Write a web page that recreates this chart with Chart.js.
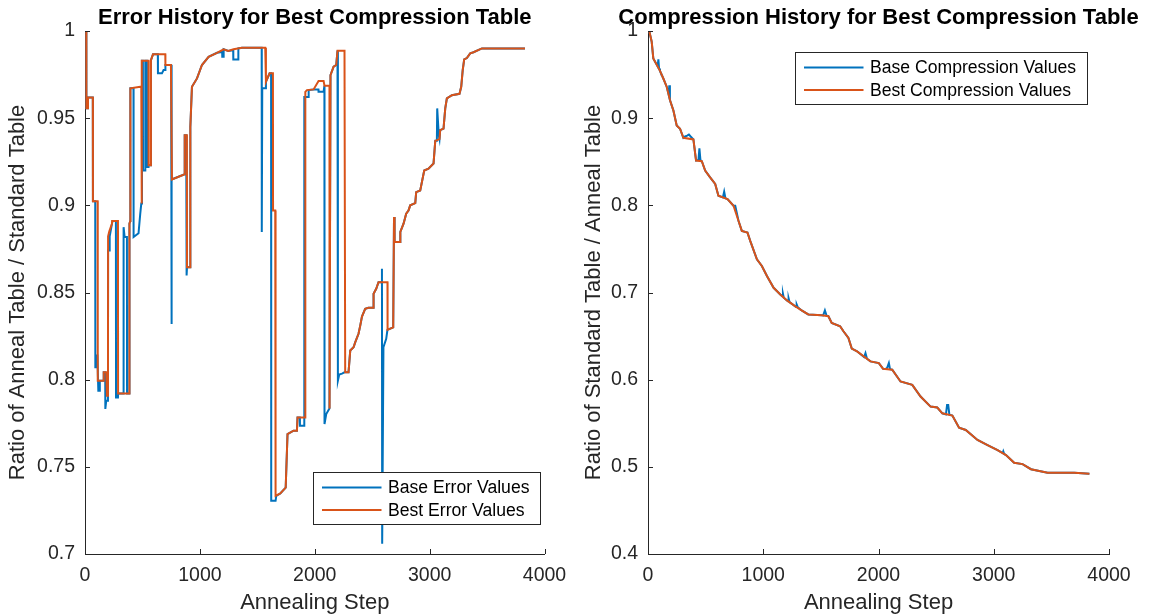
<!DOCTYPE html>
<html>
<head>
<meta charset="utf-8">
<title>Annealing history</title>
<script src="https://cdn.jsdelivr.net/npm/chart.js@4.4.1/dist/chart.umd.min.js"></script>
<style>
    body { margin: 0; background: #fff; }
    #wrap { position: relative; width: 1152px; height: 616px; overflow: hidden; }
    canvas { position: absolute; top: 0; }
</style>
</head>
<body>
<div id="wrap">
    <canvas id="errorChart" width="576" height="616" style="left:0"></canvas>
    <canvas id="compChart" width="576" height="616" style="left:576px"></canvas>
</div>
<script>
// ticks
const stepTicks = [0, 1000, 2000, 3000, 4000]
const stepTickLabels = ["0", "1000", "2000", "3000", "4000"]
const errorTicks = [0.7, 0.75, 0.8, 0.85, 0.9, 0.95, 1]
const errorTickLabels = ["0.7", "0.75", "0.8", "0.85", "0.9", "0.95", "1"]
const compTicks = [0.4, 0.5, 0.6, 0.7, 0.8, 0.9, 1]
const compTickLabels = ["0.4", "0.5", "0.6", "0.7", "0.8", "0.9", "1"]

// [annealing step, ratio]
const baseErrorValues = [
    [0, 1], [11, 1], [12, 0.9557], [24, 0.9557], [26, 0.9618], [68, 0.9618], [69, 0.9023], [89, 0.9023],
    [90, 0.8071], [100, 0.8071], [104, 0.8138], [108, 0.8138], [116, 0.7937], [124, 0.7937], [129, 0.7994],
    [162, 0.7994], [163, 0.8042], [176, 0.8042], [177, 0.7832], [185, 0.7879], [200, 0.7879], [201, 0.8741],
    [211, 0.8741], [215, 0.8822], [235, 0.8895], [240, 0.891], [269, 0.891], [270, 0.7898], [287, 0.7898],
    [288, 0.7921], [335, 0.7921], [336, 0.8875], [345, 0.8818], [365, 0.8818], [366, 0.7921], [386, 0.7921],
    [387, 0.8895], [394, 0.891], [395, 0.9671], [422, 0.9671], [423, 0.8818], [466, 0.884], [481, 0.8952],
    [490, 0.901], [496, 0.9829], [504, 0.9829], [505, 0.92], [524, 0.92], [525, 0.9829], [539, 0.9829],
    [540, 0.922], [552, 0.922], [553, 0.923], [573, 0.923], [574, 0.9833], [592, 0.9866], [634, 0.9866],
    [635, 0.9757], [670, 0.9757], [684, 0.9776], [699, 0.9776], [700, 0.9805], [750, 0.9805], [751, 0.832],
    [757, 0.9148], [867, 0.9178], [868, 0.9402], [881, 0.9402], [882, 0.8598], [887, 0.8598], [888, 0.8645],
    [916, 0.8645], [917, 0.945], [931, 0.968], [975, 0.9728], [1018, 0.9805], [1076, 0.9852], [1149, 0.9875],
    [1194, 0.988], [1195, 0.9852], [1206, 0.9852], [1207, 0.9895], [1247, 0.9885], [1290, 0.989], [1291, 0.9837],
    [1334, 0.9837], [1335, 0.99], [1366, 0.9904], [1538, 0.9904], [1539, 0.8847], [1543, 0.9671], [1568, 0.9671],
    [1575, 0.9709], [1607, 0.9757], [1620, 0.9757], [1621, 0.7305], [1659, 0.7305], [1665, 0.7333], [1700, 0.7347],
    [1747, 0.7381], [1763, 0.7688], [1815, 0.7707], [1845, 0.7707], [1850, 0.7783], [1870, 0.7783], [1871, 0.7736],
    [1908, 0.7736], [1909, 0.9622], [1946, 0.9622], [1947, 0.9661], [1990, 0.9665], [2032, 0.9665], [2033, 0.9651],
    [2077, 0.9651], [2084, 0.9686], [2085, 0.7745], [2100, 0.7803], [2128, 0.7835], [2137, 0.9747], [2164, 0.9795],
    [2187, 0.9805], [2198, 0.9887], [2201, 0.9887], [2202, 0.7994], [2213, 0.8029], [2237, 0.8035], [2259, 0.8042],
    [2294, 0.8042], [2309, 0.8167], [2338, 0.8186], [2352, 0.8214], [2381, 0.8263], [2396, 0.831], [2411, 0.8362],
    [2439, 0.8406], [2467, 0.8412], [2511, 0.8412], [2512, 0.8493], [2535, 0.8521], [2555, 0.8559], [2584, 0.8559],
    [2585, 0.8636], [2587, 0.7059], [2598, 0.8186], [2622, 0.8234], [2633, 0.8286], [2683, 0.83], [2690, 0.8933],
    [2695, 0.8789], [2744, 0.8789], [2745, 0.8847], [2773, 0.8895], [2796, 0.8952], [2816, 0.897], [2831, 0.9],
    [2875, 0.9013], [2883, 0.9076], [2918, 0.9085], [2953, 0.92], [2990, 0.921], [3034, 0.924], [3049, 0.937],
    [3063, 0.937], [3066, 0.9556], [3080, 0.94], [3086, 0.938], [3092, 0.9431], [3121, 0.944], [3136, 0.9556],
    [3150, 0.9613], [3194, 0.9632], [3260, 0.964], [3275, 0.968], [3288, 0.9776], [3301, 0.9837], [3324, 0.9845],
    [3353, 0.9872], [3382, 0.9878], [3455, 0.99], [3830, 0.99],
]

const bestErrorValues = [
    [0, 1], [11, 1], [12, 0.9557], [24, 0.9557], [26, 0.9618], [68, 0.9618], [69, 0.9023], [110, 0.9023],
    [111, 0.7994], [162, 0.7994], [163, 0.8042], [185, 0.8042], [191, 0.7908], [200, 0.7908], [201, 0.8822],
    [211, 0.885], [235, 0.8895], [236, 0.891], [287, 0.891], [288, 0.7921], [386, 0.7921], [387, 0.8895],
    [394, 0.891], [395, 0.9671], [481, 0.968], [490, 0.968], [491, 0.901], [495, 0.901], [496, 0.9829],
    [553, 0.9829], [554, 0.923], [573, 0.923], [574, 0.9833], [592, 0.9866], [699, 0.9866], [700, 0.9805],
    [748, 0.9805], [757, 0.9148], [867, 0.9178], [868, 0.9402], [887, 0.9402], [888, 0.8645], [916, 0.8645],
    [917, 0.945], [931, 0.968], [975, 0.9728], [1018, 0.9805], [1076, 0.9852], [1149, 0.9875], [1206, 0.9895],
    [1247, 0.9885], [1293, 0.9895], [1366, 0.9904], [1569, 0.9904], [1575, 0.9709], [1607, 0.9757], [1636, 0.9757],
    [1637, 0.8971], [1656, 0.8971], [1659, 0.7333], [1700, 0.7347], [1747, 0.7381], [1763, 0.7688], [1815, 0.7707],
    [1845, 0.7707], [1850, 0.7783], [1917, 0.7783], [1918, 0.9651], [1932, 0.9661], [1990, 0.9665], [2033, 0.9713],
    [2077, 0.9713], [2085, 0.9686], [2128, 0.9686], [2129, 0.7835], [2137, 0.9747], [2164, 0.9795], [2187, 0.9805],
    [2198, 0.9887], [2259, 0.9887], [2265, 0.8042], [2294, 0.8042], [2309, 0.8167], [2338, 0.8186], [2352, 0.8214],
    [2381, 0.8263], [2396, 0.831], [2411, 0.8362], [2439, 0.8406], [2467, 0.8412], [2511, 0.8412], [2512, 0.8493],
    [2535, 0.8521], [2555, 0.8559], [2633, 0.8559], [2634, 0.8286], [2683, 0.83], [2690, 0.8933], [2695, 0.8789],
    [2744, 0.8789], [2745, 0.8847], [2773, 0.8895], [2796, 0.8952], [2816, 0.897], [2831, 0.9], [2875, 0.9013],
    [2883, 0.9076], [2918, 0.9085], [2953, 0.92], [2990, 0.921], [3034, 0.924], [3049, 0.937], [3086, 0.938],
    [3092, 0.9431], [3121, 0.944], [3136, 0.9556], [3150, 0.9613], [3194, 0.9632], [3260, 0.964], [3275, 0.968],
    [3288, 0.9776], [3301, 0.9837], [3324, 0.9845], [3353, 0.9872], [3382, 0.9878], [3455, 0.99], [3830, 0.99],
]

const baseCompValues = [
    [0, 1], [11, 1], [32, 0.9877], [46, 0.9685], [70, 0.9628], [84, 0.9594], [90, 0.9674], [96, 0.957],
    [104, 0.9543], [133, 0.9455], [163, 0.9358], [179, 0.927], [185, 0.9378], [190, 0.9215], [191, 0.9205],
    [220, 0.909], [249, 0.8917], [278, 0.8879], [307, 0.8775], [322, 0.879], [340, 0.88], [355, 0.8813],
    [370, 0.879], [394, 0.8756], [417, 0.8514], [438, 0.852], [446, 0.8655], [455, 0.852], [467, 0.8506],
    [496, 0.8399], [539, 0.8321], [583, 0.8245], [611, 0.8111], [650, 0.8092], [661, 0.8157], [672, 0.808],
    [690, 0.8072], [742, 0.7995], [757, 0.7995], [785, 0.7823], [814, 0.7707], [863, 0.7688], [887, 0.7592],
    [945, 0.7381], [988, 0.7304], [1032, 0.7189], [1090, 0.7054], [1148, 0.6978], [1165, 0.6958], [1171, 0.6985],
    [1178, 0.694], [1206, 0.6909], [1215, 0.69], [1220, 0.6932], [1228, 0.689], [1276, 0.6843], [1285, 0.6835],
    [1290, 0.6863], [1300, 0.683], [1333, 0.6794], [1391, 0.6748], [1507, 0.674], [1520, 0.6738], [1535, 0.6794],
    [1550, 0.6733], [1565, 0.6728], [1594, 0.6651], [1667, 0.6613], [1696, 0.6555], [1739, 0.6478], [1768, 0.6356],
    [1814, 0.6325], [1875, 0.626], [1887, 0.6305], [1900, 0.624], [1930, 0.621], [2003, 0.619], [2040, 0.6125],
    [2060, 0.6122], [2075, 0.6135], [2090, 0.619], [2100, 0.612], [2119, 0.6114], [2191, 0.5979], [2293, 0.5941],
    [2365, 0.5806], [2452, 0.5691], [2510, 0.568], [2554, 0.5614], [2585, 0.5602], [2595, 0.571], [2605, 0.571],
    [2615, 0.5598], [2641, 0.5588], [2699, 0.5449], [2757, 0.5423], [2859, 0.5308], [2946, 0.525], [3033, 0.5192],
    [3078, 0.5158], [3083, 0.5178], [3090, 0.515], [3106, 0.5135], [3177, 0.5046], [3250, 0.5031], [3323, 0.4973],
    [3467, 0.4931], [3699, 0.4931], [3830, 0.492],
]

const bestCompValues = [
    [0, 1], [11, 1], [32, 0.9877], [46, 0.9685], [70, 0.9628], [104, 0.9543], [133, 0.9455], [163, 0.9358],
    [191, 0.9205], [220, 0.909], [249, 0.8917], [278, 0.8879], [307, 0.8775], [394, 0.8756], [417, 0.8514],
    [467, 0.8506], [496, 0.8399], [539, 0.8321], [583, 0.8245], [611, 0.8111], [690, 0.8072], [742, 0.7995],
    [785, 0.7823], [814, 0.7707], [863, 0.7688], [887, 0.7592], [945, 0.7381], [988, 0.7304], [1032, 0.7189],
    [1090, 0.7054], [1148, 0.6978], [1206, 0.6909], [1276, 0.6843], [1333, 0.6794], [1391, 0.6748], [1507, 0.674],
    [1565, 0.6728], [1594, 0.6651], [1667, 0.6613], [1696, 0.6555], [1739, 0.6478], [1768, 0.6356], [1814, 0.6325],
    [1930, 0.621], [2003, 0.619], [2040, 0.6125], [2119, 0.6114], [2191, 0.5979], [2293, 0.5941], [2365, 0.5806],
    [2452, 0.5691], [2510, 0.568], [2554, 0.5614], [2641, 0.5588], [2699, 0.5449], [2757, 0.5423], [2859, 0.5308],
    [2946, 0.525], [3033, 0.5192], [3106, 0.5135], [3177, 0.5046], [3250, 0.5031], [3323, 0.4973], [3467, 0.4931],
    [3699, 0.4931], [3830, 0.492],
]

const BLUE = "#0072BD"
const ORANGE = "#D95319"
const AXIS = "#262626"
const FONT = "'Liberation Sans', Arial, Helvetica, sans-serif"
const TICK_LEN = 5

function toPoints(pairs) {
    return pairs.map(([x, y]) => ({ x: x, y: y }))
}

// matlab style ticks, pointing into the axes
const inwardTicks = {
    id: "inwardTicks",
    afterDraw(chart) {
        const { ctx, chartArea } = chart
        const xs = chart.scales.x
        const ys = chart.scales.y
        ctx.save()
        ctx.strokeStyle = AXIS
        ctx.lineWidth = 1
        ctx.beginPath()
        xs.ticks.forEach((t) => {
            const px = Math.round(xs.getPixelForValue(t.value)) + 0.5
            ctx.moveTo(px, chartArea.bottom)
            ctx.lineTo(px, chartArea.bottom - TICK_LEN)
        })
        ys.ticks.forEach((t) => {
            const py = Math.round(ys.getPixelForValue(t.value)) + 0.5
            ctx.moveTo(chartArea.left, py)
            ctx.lineTo(chartArea.left + TICK_LEN, py)
        })
        ctx.stroke()
        ctx.restore()
    },
}

const axesTitle = {
    id: "axesTitle",
    afterDraw(chart, args, opts) {
        const { ctx, chartArea } = chart
        ctx.save()
        ctx.font = "bold 22px " + FONT
        ctx.fillStyle = "#000"
        ctx.textAlign = "center"
        ctx.textBaseline = "alphabetic"
        ctx.fillText(opts.text, (chartArea.left + chartArea.right) / 2, 23.5)
        ctx.restore()
    },
}

// boxed legend inside the axes
const boxLegend = {
    id: "boxLegend",
    afterDraw(chart, args, opts) {
        const { ctx, chartArea } = chart
        const items = chart.data.datasets
        ctx.save()
        ctx.font = "17.6px " + FONT
        const textW = Math.max(...items.map((d) => ctx.measureText(d.label).width))
        const left = Math.round(chartArea.left + opts.dx) + 0.5
        const top = Math.round(chartArea.top + opts.dy) + 0.5
        const w = Math.round(74.5 + textW + 11)
        const h = 52
        ctx.fillStyle = "#fff"
        ctx.fillRect(left, top, w, h)
        ctx.strokeStyle = AXIS
        ctx.lineWidth = 1
        ctx.strokeRect(left, top, w, h)
        items.forEach((d, i) => {
            const cy = top + 15 + i * 22.6
            ctx.strokeStyle = d.borderColor
            ctx.lineWidth = 2
            ctx.beginPath()
            ctx.moveTo(left + 8.5, cy)
            ctx.lineTo(left + 68, cy)
            ctx.stroke()
            ctx.fillStyle = "#000"
            ctx.textBaseline = "middle"
            ctx.fillText(d.label, left + 74.5, cy + 1)
        })
        ctx.restore()
    },
}

function makeChart(canvas, cfg) {
    return new Chart(canvas, {
        type: "scatter",
        data: {
            datasets: [
                {
                    label: cfg.baseLabel,
                    data: toPoints(cfg.base),
                    borderColor: BLUE,
                    showLine: true,
                    order: 2,
                },
                {
                    label: cfg.bestLabel,
                    data: toPoints(cfg.best),
                    borderColor: ORANGE,
                    showLine: true,
                    order: 1,
                },
            ],
        },
        options: {
            responsive: false,
            animation: false,
            events: [],
            elements: {
                point: { radius: 0 },
                line: { borderWidth: 2, tension: 0 },
            },
            layout: { padding: { left: 0, right: cfg.padRight, top: 31, bottom: 0 } },
            plugins: {
                legend: { display: false },
                tooltip: { enabled: false },
                title: { display: false },
                axesTitle: { text: cfg.title },
                boxLegend: { dx: cfg.legendDx, dy: cfg.legendDy },
            },
            scales: {
                x: {
                    type: "linear",
                    min: 0,
                    max: 4000,
                    afterBuildTicks: (s) => { s.ticks = stepTicks.map((v) => ({ value: v })) },
                    afterFit: (s) => { s.height = 62 },
                    grid: { display: false, drawTicks: false },
                    border: { color: AXIS, width: 1 },
                    ticks: {
                        autoSkip: false,
                        maxRotation: 0,
                        padding: 9.8,
                        color: AXIS,
                        font: { family: FONT, size: 19.5 },
                        callback: (v, i) => stepTickLabels[i],
                    },
                    title: {
                        display: true,
                        text: "Annealing Step",
                        color: AXIS,
                        font: { family: FONT, size: 22 },
                        padding: { top: 0, bottom: 0 },
                    },
                },
                y: {
                    type: "linear",
                    min: cfg.yTicks[0],
                    max: cfg.yTicks[cfg.yTicks.length - 1],
                    afterBuildTicks: (s) => { s.ticks = cfg.yTicks.map((v) => ({ value: v })) },
                    afterFit: (s) => { s.width = cfg.yWidth },
                    grid: { display: false, drawTicks: false },
                    border: { color: AXIS, width: 1 },
                    ticks: {
                        autoSkip: false,
                        padding: 10,
                        color: AXIS,
                        font: { family: FONT, size: 19.5 },
                        callback: (v, i) => cfg.yTickLabels[i],
                    },
                    title: {
                        display: true,
                        text: cfg.yTitle,
                        color: AXIS,
                        font: { family: FONT, size: 22 },
                        padding: { top: 4.8, bottom: 0 },
                    },
                },
            },
        },
        plugins: [inwardTicks, axesTitle, boxLegend],
    })
}

makeChart(document.getElementById("errorChart"), {
    title: "Error History for Best Compression Table",
    yTitle: "Ratio of Anneal Table / Standard Table",
    baseLabel: "Base Error Values",
    bestLabel: "Best Error Values",
    base: baseErrorValues,
    best: bestErrorValues,
    yTicks: errorTicks,
    yTickLabels: errorTickLabels,
    yWidth: 85,
    padRight: 31.5,
    legendDx: 228.3,
    legendDy: 440.7,
})

makeChart(document.getElementById("compChart"), {
    title: "Compression History for Best Compression Table",
    yTitle: "Ratio of Standard Table / Anneal Table",
    baseLabel: "Base Compression Values",
    bestLabel: "Best Compression Values",
    base: baseCompValues,
    best: bestCompValues,
    yTicks: compTicks,
    yTickLabels: compTickLabels,
    yWidth: 72,
    padRight: 43,
    legendDx: 147.4,
    legendDy: 20.7,
})
</script>
</body>
</html>
